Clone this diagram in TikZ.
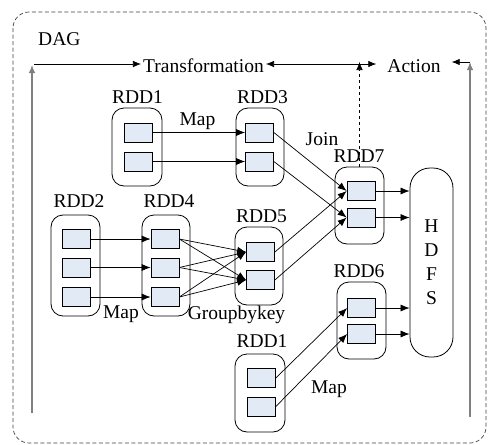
\documentclass[tikz,border=0pt]{standalone}
\usepackage{fontspec}
\setmainfont{Liberation Serif}
\usetikzlibrary{arrows.meta}
\definecolor{partfill}{HTML}{E2EAF5}
\definecolor{axisgray}{HTML}{808080}

\begin{document}
\begin{tikzpicture}[x=1pt,y=-1pt,
	font=\fontsize{19.5}{24}\selectfont,
	rdd/.style={draw,line width=0.8pt,rounded corners=12pt,inner sep=0pt},
	part/.style={draw,line width=0.7pt,fill=partfill,minimum width=28pt,minimum height=19pt,inner sep=0pt},
	lbl/.style={anchor=base,inner sep=0pt},
	flow/.style={-{Latex[length=9pt,width=7pt]},line width=0.7pt},
	stage/.style={-{Latex[length=8pt,width=6.5pt]},line width=0.7pt},
	guide/.style={draw=axisgray,line width=1.2pt}]
	\useasboundingbox (0,0) rectangle (488,445);
	\draw[dash pattern=on 4pt off 2.5pt,line width=0.7pt,rounded corners=16pt,draw=black!75] (13,12) rectangle (486,443);
	\node[anchor=base west,inner sep=0pt] (dag) at (38,45) {DAG};
	% stages
	\node[inner sep=2pt] (trans) at (203.5,66) {Transformation};
	\node[inner ysep=2pt,inner xsep=11pt] (act) at (414,66) {Action};
	\coordinate (lbot) at (32,413);
	\coordinate (ltop) at (32,65);
	\coordinate (lstart) at (34,64);
	\coordinate (rbot) at (470,417);
	\coordinate (rtop) at (470,62);
	\draw[guide,-{Latex[length=8pt,width=6.5pt]}] (lbot) -- (ltop);
	\draw[guide,-{Latex[length=8pt,width=6.5pt]}] (rbot) -- (rtop);
	\draw[stage] (lstart) -- (trans.west |- lstart);
	\draw[stage,{Latex[length=8pt,width=6.5pt]}-{Latex[length=8pt,width=6.5pt]}] (trans.east |- lstart) -- (act.west |- lstart);
	\draw[stage] (rtop) -- (act.east |- rtop);
	% containers
	\node[rdd,minimum width=50pt,minimum height=78pt] (c1) at (137,147) {};
	\node[rdd,minimum width=48pt,minimum height=78pt] (c3) at (260,147) {};
	\node[rdd,minimum width=49pt,minimum height=101pt] (c2) at (75.5,265.5) {};
	\node[rdd,minimum width=48pt,minimum height=101pt] (c4) at (166,265.5) {};
	\node[rdd,minimum width=48pt,minimum height=78pt] (c5) at (259,266) {};
	\node[rdd,minimum width=49pt,minimum height=77pt] (c7) at (359.5,205.5) {};
	\node[rdd,minimum width=49pt,minimum height=77pt] (c6) at (361.5,320.5) {};
	\node[rdd,minimum width=50pt,minimum height=78pt] (c8) at (260,393) {};
	\node[rdd,rounded corners=20pt,minimum width=43pt,minimum height=189pt,align=center] (hdfs) at (431.5,262.5) {H\\D\\F\\S};
	\draw[dashed,stage] (c7.north) -- (c7.north |- rtop);
	% labels
	\node[lbl] (l1) at (137.5,103) {RDD1};
	\node[lbl] (l3) at (262.5,103) {RDD3};
	\node[lbl] (l2) at (79,207) {RDD2};
	\node[lbl] (l4) at (169,207) {RDD4};
	\node[lbl] (l5) at (261.5,222) {RDD5};
	\node[lbl] (l7) at (359,162) {RDD7};
	\node[lbl] (l6) at (359,277) {RDD6};
	\node[lbl] (l8) at (262,347) {RDD1};
	\node[lbl] (map1) at (197.5,125) {Map};
	\node[lbl] (join) at (322,145) {Join};
	\node[lbl] (map2) at (121,318) {Map};
	\node[lbl] (gbk) at (236.5,319) {Groupbykey};
	\node[lbl] (map3) at (329,393) {Map};
	% partitions
	\node[part] (p11) at (138,132.5) {};
	\node[part] (p12) at (138,161.5) {};
	\node[part] (p31) at (259.5,132.5) {};
	\node[part] (p32) at (259.5,161.5) {};
	\foreach \i/\y in {1/239,2/267.5,3/297} {
		\node[part] (p2\i) at (76.5,\y) {};
		\node[part] (p4\i) at (165,\y) {};
	}
	\node[part] (p51) at (260.5,252) {};
	\node[part] (p52) at (260.5,280) {};
	\node[part] (p71) at (361,191) {};
	\node[part] (p72) at (361,217.5) {};
	\node[part] (p61) at (361.5,308) {};
	\node[part] (p62) at (361.5,334) {};
	\node[part] (p81) at (261.5,378) {};
	\node[part] (p82) at (261.5,406.5) {};
	% dependencies
	\draw[flow] (p11) -- (p31);
	\draw[flow] (p12) -- (p32);
	\foreach \i in {1,2,3} {
		\draw[flow] (p2\i) -- (p4\i);
		\foreach \j in {1,2}
			\draw[flow] (p4\i.east) -- (p5\j.west);
	}
	\draw[flow] (p31.east) -- (p71.west);
	\draw[flow] (p32.east) -- (p72.west);
	\draw[flow] (p51.east) -- (p71.west);
	\draw[flow] (p52.east) -- (p72.west);
	\draw[flow] (p81.east) -- (p61.west);
	\draw[flow] (p82.east) -- (p62.west);
	\foreach \k in {71,72,61,62}
		\draw[flow] (p\k.east) -- (p\k.east -| hdfs.west);
\end{tikzpicture}
\end{document}
